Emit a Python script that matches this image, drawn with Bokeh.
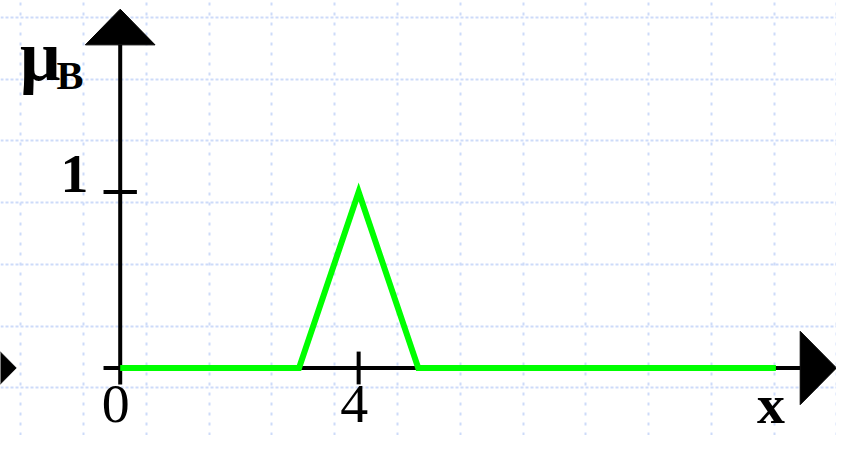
from bokeh.plotting import figure
from bokeh.models import Range1d, Grid, FixedTicker
from bokeh.core.properties import value
from bokeh.embed import file_html
from bokeh.resources import INLINE

# ---- data ----
mu_x = [0, 3, 4, 5, 11]
mu_y = [0, 0, 1, 0, 0]
x_tick_vals = [0, 4]
x_tick_labels = ["0", "4"]
y_tick_vals = [1]
y_tick_labels = ["1"]
x_label = "x"
y_label_main = "\u03bc"
y_label_sub = "B"

# ---- layout constants (reference drawing is 852x451 px, scaled into the frame) ----
W, H = 836, 435
REF_W, REF_H = 852, 451
SX, SY = W / REF_W, H / REF_H
UX = 60.75     # reference px per x unit
UY = 182.5     # reference px per y unit
OX, OY = 122.0, 381.0   # reference px of the origin


def dx(px):   # reference px distance -> x units
    return px / UX


def dy(px):   # reference px distance -> y units
    return px / UY


p = figure(width=W, height=H, output_backend="svg", toolbar_location=None,
           x_range=Range1d(-dx(OX), dx(REF_W - OX)),
           y_range=Range1d(-dy(REF_H - OY), dy(OY)),
           x_axis_type=None, y_axis_type=None, min_border=0,
           outline_line_color=None, background_fill_color="white",
           border_fill_color="white")

# graph-paper grid (64 px cells)
GRID = 64.0
xg = [dx(20.5 - OX) + k * dx(GRID) for k in range(14)]
yg = [dy(OY - 401.5) + k * dy(GRID) for k in range(7)]
grid_color = "#cddbf9"
p.add_layout(Grid(dimension=0, ticker=FixedTicker(ticks=xg), grid_line_color=grid_color,
                  grid_line_width=2, grid_line_dash="3 7"))
p.add_layout(Grid(dimension=1, ticker=FixedTicker(ticks=yg), grid_line_color=grid_color,
                  grid_line_width=2, grid_line_dash="3 2"))

# axes lines
TICK = 17.0
AX_W = 4
x_axis_end = dx(815 - OX)
x_tip = dx(852 - OX)
y_axis_end = dy(OY - 46)
y_tip = dy(OY - 9)
p.segment(x0=[-dx(TICK)], y0=[0], x1=[x_axis_end], y1=[0], line_color="black", line_width=AX_W)
p.segment(x0=[0], y0=[-dy(TICK)], x1=[0], y1=[y_axis_end], line_color="black", line_width=AX_W)

# ticks
xt = x_tick_vals[1:]
p.segment(x0=xt, y0=[-dy(TICK)] * len(xt), x1=xt, y1=[dy(TICK)] * len(xt),
          line_color="black", line_width=AX_W)
p.segment(x0=[-dx(TICK)] * len(y_tick_vals), y0=y_tick_vals,
          x1=[dx(TICK)] * len(y_tick_vals), y1=y_tick_vals,
          line_color="black", line_width=AX_W)

# arrow heads
hx = dy(38)
p.patch([x_axis_end, x_tip, x_axis_end], [-hx, 0, hx], color="black", line_width=1)
hy = dx(35.5)
p.patch([-hy, 0, hy], [y_axis_end, y_tip, y_axis_end], color="black", line_width=1)
ltip = dx(16 - OX)
p.patch([ltip - dx(37), ltip, ltip - dx(37)], [-hx, 0, hx], color="black", line_width=1)

# membership function
p.line(mu_x, mu_y, line_color="#00ff00", line_width=6, line_join="miter")

# text helpers
BASE_SHIFT = 0.35   # bokeh places the alphabetic baseline ~0.35em low


def label(xs, ys, texts, x_off_ref, base_ref, size, bold=False, align="center"):
    fs = size * SY
    p.text(x=xs, y=ys, text=texts, x_offset=x_off_ref * SX,
           y_offset=base_ref * SY - BASE_SHIFT * fs,
           text_align=align, text_baseline="alphabetic",
           text_font=value("Liberation Serif"),
           text_font_style="bold" if bold else "normal",
           text_font_size=f"{fs:.1f}px", text_color="black")


# tick labels
label(x_tick_vals, [0] * len(x_tick_vals), x_tick_labels, -4.5, 439 - OY, 58)
label([0] * len(y_tick_vals), y_tick_vals, y_tick_labels, -46.5, 200 - 198.5, 58, bold=True)

# axis labels
label([11], [0], [x_label], 787 - 792, 439 - OY, 58, bold=True)
label([0], [y_axis_end], [y_label_main], 20 - OX, 83 - 46, 74, bold=True, align="left")
label([0], [y_axis_end], [y_label_sub], 57 - OX, 92 - 46, 42, bold=True, align="left")

open("out.html", "w").write(file_html(p, INLINE))
